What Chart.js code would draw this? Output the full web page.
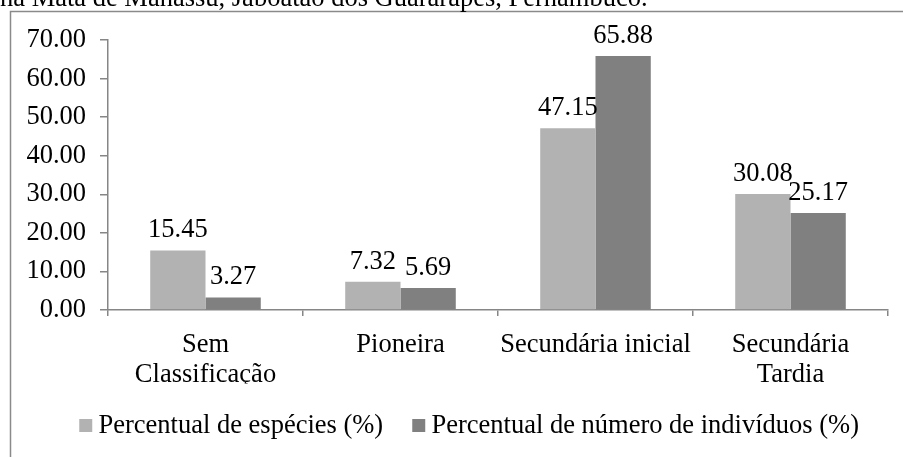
<!DOCTYPE html>
<html>
<head>
<meta charset="utf-8">
<script src="https://cdn.jsdelivr.net/npm/chart.js@4"></script>
<style>
  html, body { margin: 0; padding: 0; background: #ffffff; overflow: hidden; }
  #wrap { position: relative; width: 903px; height: 457px; overflow: hidden; }
  #caption { position: absolute; left: 0; top: -16px; white-space: nowrap;
    font-family: "Liberation Serif", "Times New Roman", serif; font-size: 26.5px; line-height: 26px; color: #000; }
  #cv { position: absolute; left: 0; top: 0; }
</style>
</head>
<body>
<div id="wrap">
  <canvas id="cv" width="903" height="457"></canvas>
  <div id="caption">na Mata de Manassu, Jaboatão dos Guararapes, Pernambuco.</div>
</div>
<script>
const categories = [["Sem", "Classificação"], ["Pioneira"], ["Secundária inicial"], ["Secundária", "Tardia"]];
const seriesNames = ["Percentual de espécies (%)", "Percentual de número de indivíduos (%)"];
const especies = [15.45, 7.32, 47.15, 30.08];
const individuos = [3.27, 5.69, 65.88, 25.17];
const yTicks = [0, 10, 20, 30, 40, 50, 60, 70];
const seriesColors = ["#b2b2b2", "#808080"];

const FONT = "'Liberation Serif', 'Times New Roman', serif";
const FS = 26.5;
const AXIS = "#868686";

// legend marker: 13px square, drawn as an image point style
function markerImage(color) {
  const c = document.createElement('canvas');
  c.width = 26; c.height = 13;
  const g = c.getContext('2d');
  g.fillStyle = color;
  g.fillRect(10, 0, 13, 13);
  return c;
}
const markers = seriesColors.map(markerImage);

const frameBox = {
  id: 'frameBox',
  beforeDraw(chart) {
    const ctx = chart.ctx;
    ctx.save();
    ctx.strokeStyle = "#8a8a8a";
    ctx.lineWidth = 1.5;
    ctx.beginPath();
    ctx.moveTo(10.5, 470);
    ctx.lineTo(10.5, 11.5);
    ctx.lineTo(910, 11.5);
    ctx.stroke();
    ctx.restore();
  }
};

const valueLabels = {
  id: 'valueLabels',
  afterDatasetsDraw(chart) {
    const ctx = chart.ctx;
    ctx.save();
    ctx.font = FS + "px " + FONT;
    ctx.fillStyle = "#000";
    ctx.textAlign = "center";
    ctx.textBaseline = "alphabetic";
    chart.data.datasets.forEach((ds, i) => {
      const meta = chart.getDatasetMeta(i);
      meta.data.forEach((el, j) => {
        ctx.fillText(ds.data[j].toFixed(2), el.x, el.y - 13);
      });
    });
    ctx.restore();
  }
};

new Chart(document.getElementById('cv'), {
  type: 'bar',
  data: {
    labels: categories,
    datasets: [
      { label: seriesNames[0], data: especies, backgroundColor: seriesColors[0], borderWidth: 0,
        categoryPercentage: 0.567, barPercentage: 1.0 },
      { label: seriesNames[1], data: individuos, backgroundColor: seriesColors[1], borderWidth: 0,
        categoryPercentage: 0.567, barPercentage: 1.0 }
    ]
  },
  options: {
    responsive: false,
    devicePixelRatio: 1,
    animation: false,
    layout: { padding: { left: 0, right: 15, top: 40, bottom: 8 } },
    plugins: {
      legend: {
        position: 'bottom',
        align: 'end',
        labels: {
          color: "#000",
          font: { family: FONT, size: FS },
          usePointStyle: true,
          pointStyleWidth: 6,
          boxHeight: 13,
          padding: 29,
          generateLabels(chart) {
            const items = Chart.defaults.plugins.legend.labels.generateLabels(chart);
            items.forEach((it, i) => { it.pointStyle = markers[i]; });
            return items;
          }
        }
      },
      tooltip: { enabled: false }
    },
    scales: {
      x: {
        grid: { display: true, drawOnChartArea: false, offset: true, tickLength: 6, color: AXIS, lineWidth: 1.5 },
        border: { display: true, color: AXIS, width: 1.5 },
        ticks: { color: "#000", font: { family: FONT, size: FS, lineHeight: 30 / FS }, padding: 14, maxRotation: 0, autoSkip: false },
        afterFit(scale) {
          const lg = scale.chart.legend ? scale.chart.legend.height : 46;
          scale.height = 457 - 310 - 8 - lg;
        }
      },
      y: {
        min: 0, max: 70,
        afterBuildTicks(scale) { scale.ticks = yTicks.map(v => ({ value: v })); },
        grid: { display: true, drawOnChartArea: false, tickLength: 8, color: AXIS, lineWidth: 1.5 },
        border: { display: true, color: AXIS, width: 1.5 },
        ticks: { color: "#000", font: { family: FONT, size: FS }, padding: 14,
          callback: v => Number(v).toFixed(2) },
        afterFit(scale) { scale.width = 108; }
      }
    }
  },
  plugins: [frameBox, valueLabels]
});
</script>
</body>
</html>
